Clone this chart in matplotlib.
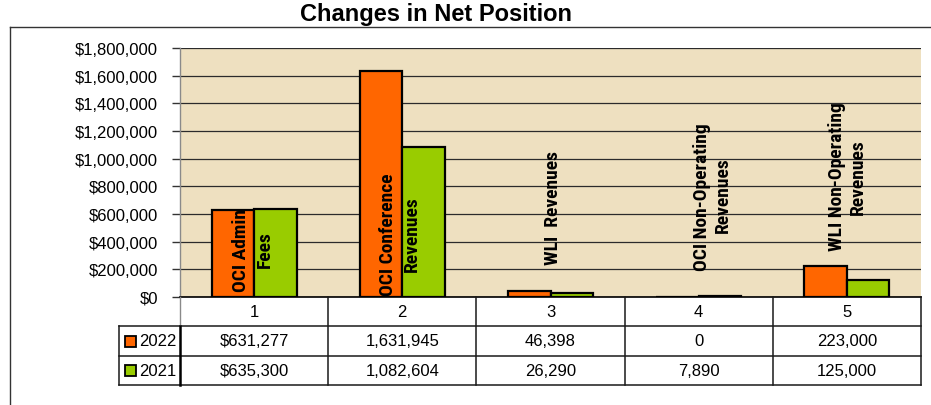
import matplotlib
matplotlib.use("Agg")
import matplotlib.pyplot as plt
import matplotlib.font_manager as fm
from matplotlib.lines import Line2D
from matplotlib.patches import Rectangle
from matplotlib.ticker import FuncFormatter, MultipleLocator
import matplotlib.transforms as mtransforms

# ---------------- data ----------------
categories = ["1", "2", "3", "4", "5"]
series_names = ["2022", "2021"]
values_2022 = [631277, 1631945, 46398, 0, 223000]
values_2021 = [635300, 1082604, 26290, 7890, 125000]
bar_labels = [
    ["OCI Admin", "Fees"],
    ["OCI Conference", "Revenues"],
    ["WLI  Revenues"],
    ["OCI Non-Operating", "Revenues"],
    ["WLI Non-Operating", "Revenues"],
]
title = "Changes in Net Position"

# ---------------- style ----------------
W, H = 931, 406
ORANGE = "#FF6600"
GREEN = "#99CC00"
BG = "#EEE0C0"
plt.rcParams["font.family"] = ["Liberation Sans", "DejaVu Sans"]

# look for a condensed / narrow bold face for the bar labels
narrow_path = None
for f in fm.fontManager.ttflist:
    fn = f.fname.lower()
    if ("narrow" in fn or "condensed" in fn) and "bold" in fn and "italic" not in fn \
            and "oblique" not in fn and "semi" not in fn and "extra" not in fn:
        narrow_path = f.fname
        if "liberation" in fn or "arial" in fn:
            break
if narrow_path:
    label_fp = fm.FontProperties(fname=narrow_path, size=14)
else:
    label_fp = fm.FontProperties(family=["Liberation Sans", "DejaVu Sans"],
                                 weight="bold", size=12)

fig = plt.figure(figsize=(W / 100, H / 100), dpi=100)
fig.patch.set_facecolor("white")

def fx(px):
    return px / W

def fy(py):
    return 1 - py / H

ax_l, ax_r, ax_t, ax_b = 180, 921, 49, 298
ax = fig.add_axes([fx(ax_l), fy(ax_b), fx(ax_r - ax_l), (ax_b - ax_t) / H])
ax.set_facecolor(BG)

n = len(categories)
x = list(range(n))
bw = 0.287
ax.bar([i - bw / 2 for i in x], values_2022, width=bw, color=ORANGE,
       edgecolor="black", linewidth=1.6, zorder=2)
ax.bar([i + bw / 2 for i in x], values_2021, width=bw, color=GREEN,
       edgecolor="black", linewidth=1.6, zorder=3)

ax.set_xlim(-0.5, n - 0.5)
ax.set_ylim(0, 1800000)
ax.yaxis.set_major_locator(MultipleLocator(200000))
ax.yaxis.set_major_formatter(FuncFormatter(lambda v, p: f"${v:,.0f}"))
ax.tick_params(axis="y", length=6, width=1, color="#333333", pad=10,
               labelsize=12)
ax.set_xticks([])
ax.grid(axis="y", color="#2b2b2b", linewidth=0.9, zorder=1)
ax.set_axisbelow(True)
for s in ["top", "right"]:
    ax.spines[s].set_visible(False)
ax.spines["left"].set_color("#8a8a8a")
ax.spines["left"].set_linewidth(1)
ax.spines["bottom"].set_color("black")
ax.spines["bottom"].set_linewidth(1.2)

# ---------------- bar text labels ----------------
# (category offset, y value) for each line, in data units
label_pos = [
    [(-0.088, 340000), (0.074, 347000)],
    [(-0.0965, 455000), (0.0655, 463000)],
    [(0.017, 650000)],
    [(0.022, 730000), (0.164, 745000)],
    [(-0.067, 875000), (0.075, 875000)],
]
for i, (lines, poss) in enumerate(zip(bar_labels, label_pos)):
    for j, (txt, (dx, yv)) in enumerate(zip(lines, poss)):
        z = 2.5 if (i == 0 and j == 0) else 5
        ax.text(i + dx, yv, txt, rotation=90, ha="center", va="center",
                fontproperties=label_fp, color="black", zorder=z)

# ---------------- data table ----------------
tb = mtransforms.blended_transform_factory(ax.transData, fig.transFigure)
rows_px = [298, 327, 357, 386]
line_kw = dict(color="#1a1a1a", linewidth=1.1, clip_on=False)

for py in rows_px[1:]:
    fig.add_artist(Line2D([fx(119), fx(921)], [fy(py), fy(py)],
                          transform=fig.transFigure, **line_kw))
for k in range(1, n + 1):
    xv = k - 0.5
    fig.add_artist(Line2D([xv, xv], [fy(298), fy(386)], transform=tb,
                          **line_kw))
fig.add_artist(Line2D([fx(180), fx(180)], [fy(298), fy(327)],
                      transform=fig.transFigure, color="#8a8a8a",
                      linewidth=1, clip_on=False))
fig.add_artist(Line2D([fx(180), fx(180)], [fy(327), fy(386)],
                      transform=fig.transFigure, color="black",
                      linewidth=1.8, clip_on=False))
fig.add_artist(Line2D([fx(119), fx(119)], [fy(327), fy(386)],
                      transform=fig.transFigure, **line_kw))

for i, c in enumerate(categories):
    fig.text(i, fy(312.5), c, transform=tb, ha="center", va="center",
             fontsize=12)

def fmt(v, first):
    s = f"{v:,.0f}"
    return "$" + s if first else s

for r, (name, vals, col) in enumerate(zip(series_names,
                                         [values_2022, values_2021],
                                         [ORANGE, GREEN])):
    yc = (rows_px[r + 1] + rows_px[r + 2]) / 2
    for i, v in enumerate(vals):
        fig.text(i, fy(yc), fmt(v, i == 0), transform=tb, ha="center",
                 va="center", fontsize=12)
    fig.add_artist(Rectangle((fx(125), fy(yc + 5.5)), fx(11), 11 / H,
                             transform=fig.transFigure, facecolor=col,
                             edgecolor="black", linewidth=1.3))
    fig.text(fx(139), fy(yc), name, ha="left", va="center", fontsize=12)

# ---------------- outer border and title ----------------
fig.add_artist(Line2D([fx(10), fx(931)], [fy(28), fy(28)],
                      transform=fig.transFigure, color="#333333", linewidth=1))
fig.add_artist(Line2D([fx(10), fx(10)], [fy(28), fy(406)],
                      transform=fig.transFigure, color="#333333", linewidth=1))
fig.text(fx(435.5), fy(14), title, ha="center", va="center", fontsize=17,
         fontweight="bold")

fig.savefig("out.png", dpi=100, facecolor="white")
